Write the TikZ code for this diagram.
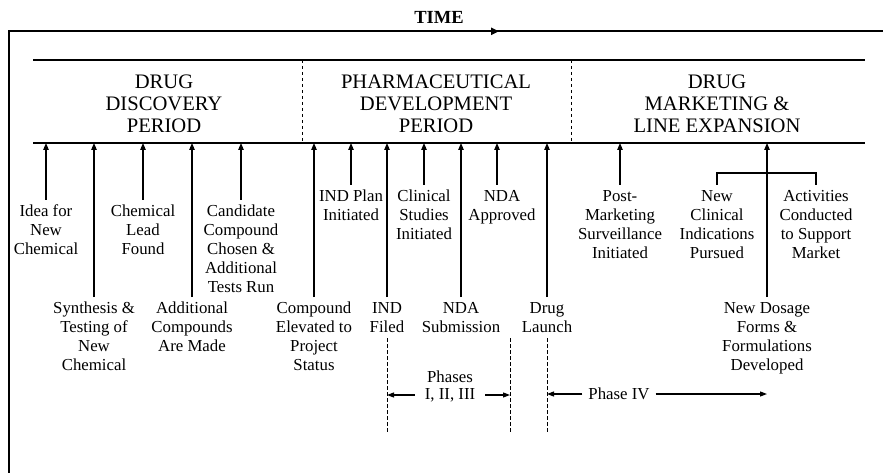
\documentclass[tikz,border=0pt]{standalone}
\usepackage{fontspec}
\setmainfont{Liberation Serif}
\usetikzlibrary{arrows.meta}
\begin{document}
\begin{tikzpicture}[x=1pt,y=-1pt,
  lbl/.style={font=\fontsize{16.8}{19}\selectfont, align=center, anchor=north, inner xsep=1pt, inner ysep=5pt, outer sep=0pt},
  txt/.style={font=\fontsize{16.8}{19}\selectfont, align=center, inner ysep=0pt, outer sep=0pt},
  period/.style={font=\fontsize{20.6}{22}\selectfont, align=center, inner sep=0pt},
  uparrow/.style={line width=1.1pt, -{Triangle[length=7pt,width=5.5pt]}},
  harrow/.style={line width=1.1pt, -{Triangle[length=7pt,width=5pt]}},
  dashline/.style={line width=0.8pt, dash pattern=on 3.5pt off 2.5pt},
  rule/.style={line width=1.4pt}]
\useasboundingbox (0,0) rectangle (883,473);
% frame
\coordinate (fbl) at (9,474);
\coordinate (ftl) at (9,31);
\coordinate (ftr) at (884,31);
\draw[line width=1.4pt] (fbl) -- (ftl) -- (ftr);
% time
\node[font=\fontsize{18.5}{20}\selectfont\bfseries, inner sep=0pt] (time) at (439,17) {TIME};
\coordinate (ta) at (387,31.3);
\coordinate (tb) at (499,31.3);
\draw[line width=2.4pt, -{Triangle[length=8pt,width=7pt]}] (ta) -- (tb);
% band
\coordinate (bandTL) at (33,60);
\coordinate (bandTR) at (865,60);
\coordinate (bandBL) at (33,143);
\coordinate (bandBR) at (865,143);
\coordinate (tl) at (0,143);
\draw[rule] (bandTL) -- (bandTR);
\draw[rule] (bandBL) -- (bandBR);
\coordinate (dv1t) at (302,60);
\coordinate (dv1b) at (302,143);
\coordinate (dv2t) at (571,60);
\coordinate (dv2b) at (571,143);
\draw[dashline] (dv1t) -- (dv1b);
\draw[dashline] (dv2t) -- (dv2b);
\node[period] (p1) at (164,104) {DRUG\\DISCOVERY\\PERIOD};
\node[period] (p2) at (436,104) {PHARMACEUTICAL\\DEVELOPMENT\\PERIOD};
\node[period] (p3) at (717,104) {DRUG\\MARKETING \&\\LINE EXPANSION};
% labels
\node[lbl] (idea) at (46,200) {Idea for\\New\\Chemical};
\node[lbl] (synth) at (94,297) {Synthesis \&\\Testing of\\New\\Chemical};
\node[lbl] (lead) at (143,200) {Chemical\\Lead\\Found};
\node[lbl] (addl) at (192,297) {Additional\\Compounds\\Are Made};
\node[lbl] (cand) at (241,200) {Candidate\\Compound\\Chosen \&\\Additional\\Tests Run};
\node[lbl] (elev) at (314,297) {Compound\\Elevated to\\Project\\Status};
\node[lbl] (indplan) at (351,185) {IND Plan\\Initiated};
\node[lbl] (indfiled) at (387,297) {IND\\Filed};
\node[lbl] (clin) at (424,185) {Clinical\\Studies\\Initiated};
\node[lbl] (ndasub) at (461,297) {NDA\\Submission};
\node[lbl] (ndaapp) at (502,185) {NDA\\Approved};
\node[lbl] (launch) at (547,297) {Drug\\Launch};
\node[lbl] (post) at (620,185) {Post-\\Marketing\\Surveillance\\Initiated};
\node[lbl] (dosage) at (767,297) {New Dosage\\Forms \&\\Formulations\\Developed};
\node[lbl] (newclin) at (717,185) {New\\Clinical\\Indications\\Pursued};
\node[lbl] (activ) at (816,185) {Activities\\Conducted\\to Support\\Market};
% arrows to timeline
\foreach \n in {idea,synth,lead,addl,cand,elev,indplan,indfiled,clin,ndasub,launch,post,dosage}
  \draw[uparrow] (\n.north) -- (\n.north |- tl);
\draw[uparrow] ([xshift=-5pt]ndaapp.north) -- ([xshift=-5pt]ndaapp.north |- tl);
% bracket
\coordinate (brk) at (0,173);
\draw[line width=1.1pt] (newclin.north) -- (newclin.north |- brk) -- (activ.north |- brk) -- (activ.north);
% dashed phase markers
\coordinate (d1t) at (387,338);
\coordinate (d1b) at (387,432);
\coordinate (d2t) at (510,338);
\coordinate (d2b) at (510,432);
\coordinate (d3t) at (547,338);
\coordinate (d3b) at (547,432);
\draw[dashline] (d1t) -- (d1b);
\draw[dashline] (d2t) -- (d2b);
\draw[dashline] (d3t) -- (d3b);
% phases I-III
\node[txt] (phA) at (450,377) {Phases};
\node[txt, inner xsep=10pt] (phB) at (450,395) {I, II, III};
\draw[harrow] (phB.west) -- (phB.west -| d1t);
\draw[harrow] (phB.east) -- (phB.east -| d2t);
% phase IV
\node[txt, inner xsep=6pt] (ph4) at (619,394) {Phase IV};
\coordinate (p4end) at (767,394);
\draw[harrow] (ph4.west) -- (ph4.west -| d3t);
\draw[harrow] (ph4.east) -- (p4end);
\end{tikzpicture}
\end{document}
